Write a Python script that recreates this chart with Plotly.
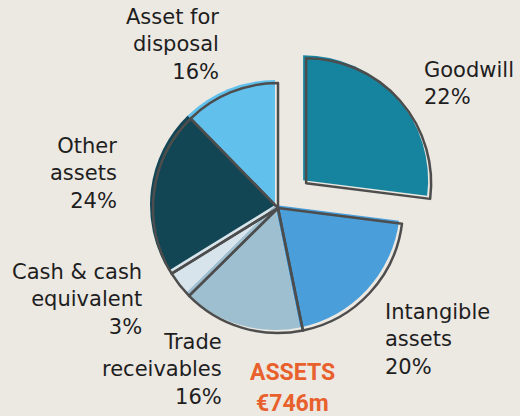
import plotly.graph_objects as go

# ---- data ----
categories = ["Goodwill", "Intangible assets", "Trade receivables",
              "Cash & cash equivalent", "Other assets", "Asset for disposal"]
display_names = ["Goodwill", "Intangible<br>assets", "Trade<br>receivables",
                 "Cash & cash<br>equivalent", "Other<br>assets", "Asset for<br>disposal"]
slice_shares = [27.0, 19.8, 15.8, 3.6, 21.5, 12.3]   # slice sizes as drawn
pct_labels = ["22%", "20%", "16%", "3%", "24%", "16%"]  # printed percentages
pulls = [0.3, 0, 0, 0, 0, 0]
total_label = "ASSETS"
total_value = "€746m"

colors = ["#17849F", "#4A9FDB", "#9DBFD0", "#D8E4EC", "#134655", "#62C0EC"]
W, H = 520, 416
BG = "#ECE8E2"


def dom(cx, cy, size):
    return dict(x=[(cx - size / 2) / W, (cx + size / 2) / W],
                y=[1 - (cy + size / 2) / H, 1 - (cy - size / 2) / H])


R = 125
box = 2 * R * (1 + max(pulls))

fig = go.Figure()
# fill layer (slightly offset up-left)
fig.add_trace(go.Pie(
    labels=categories, values=slice_shares, sort=False, direction="clockwise",
    rotation=0, pull=pulls, textinfo="none", hoverinfo="label",
    marker=dict(colors=colors, line=dict(width=0)),
    domain=dom(275, 205, box), showlegend=False))
# outline layer
fig.add_trace(go.Pie(
    labels=categories, values=slice_shares, sort=False, direction="clockwise",
    rotation=0, pull=pulls, textinfo="none", hoverinfo="skip",
    marker=dict(colors=["rgba(0,0,0,0)"] * 6, line=dict(width=2.5, color="#4d4d4d")),
    domain=dom(278, 208, box), showlegend=False))

label_pos = {  # (x px, y px center, anchor)
    "Goodwill": (422, 83, "left"),
    "Intangible assets": (383, 339, "left"),
    "Trade receivables": (224, 369, "right"),
    "Cash & cash equivalent": (144, 299, "right"),
    "Other assets": (119, 173, "right"),
    "Asset for disposal": (221, 45, "right"),
}
anns = []
for cat, name, pct in zip(categories, display_names, pct_labels):
    x, y, anc = label_pos[cat]
    anns.append(dict(x=x / W, y=1 - y / H, xref="paper", yref="paper",
                     text=f"{name}<br>{pct}", showarrow=False,
                     xanchor=anc, yanchor="middle", align=anc,
                     font=dict(family="DejaVu Sans", size=21, color="#1e1e1e")))
for txt, yy in ((total_label, 372), (total_value, 403)):
    anns.append(dict(x=292 / W, y=1 - yy / H, xref="paper", yref="paper",
                     text=f"<b>{txt}</b>", showarrow=False,
                     xanchor="center", yanchor="middle", align="center",
                     font=dict(family="Roboto", size=23, color="#E8612C")))

fig.update_layout(width=W, height=H, margin=dict(l=0, r=0, t=0, b=0),
                  paper_bgcolor=BG, plot_bgcolor=BG, annotations=anns)
fig.write_html("out.html", config={"displayModeBar": False},
               post_script="document.body.style.margin='0';document.body.style.background='" + BG + "';")
